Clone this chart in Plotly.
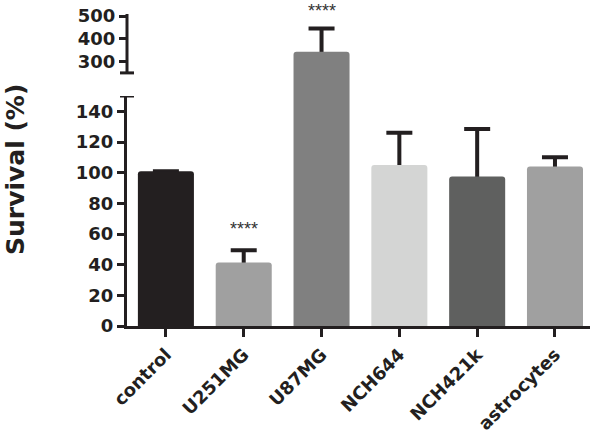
import plotly.graph_objects as go

categories = ["control", "U251MG", "U87MG", "NCH644", "NCH421k", "astrocytes"]
survival = [101, 41.4, 344, 105, 97.5, 104]
sem = [None, 8, 101, 21, 31, 6]
bar_colors = ["#231f20", "#a0a0a0", "#808080", "#d4d5d4", "#5f605f", "#a0a0a0"]
lower_ticks = [0, 20, 40, 60, 80, 100, 120, 140]
upper_ticks = [300, 400, 500]
sig_labels = ["", "****", "****", "", "", ""]
sig_y = [None, 63, 522, None, None, None]

W, H = 600, 438
ml, mr, mt, mb = 127, 10, 10, 112
plot_h = H - mt - mb
zero_pix = H - mb          # 326
break_pix = 96             # pixel where lower axis ends
top_pix = 14
LOW_MAX = 150
lower_top = (zero_pix - break_pix) / plot_h

# upper axis: 300 at pixel 61.7, 500 at 16
up_scale = (61.7 - 16) / 200.0
up_start_pix = break_pix + 1   # 1px overlap to avoid seam
UP_MIN = 300 - (up_start_pix - 61.7) / up_scale
UP_MAX = 500 + (16 - top_pix) / up_scale
upper_bottom = (zero_pix - up_start_pix) / plot_h
upper_top = (zero_pix - top_pix) / plot_h
UP_AXIS_MIN = 251

FONT = "DejaVu Sans"
fig = go.Figure()
err = dict(type="data", symmetric=True, array=sem,
           color="#231f20", thickness=4, width=13)
for ax in ["y", "y2"]:
    # error bars (drawn first; lower half hidden behind the bars)
    fig.add_trace(go.Bar(
        x=categories, y=survival, yaxis=ax, width=0.72,
        marker=dict(color="rgba(0,0,0,0)", line=dict(width=0)),
        error_y=err, showlegend=False, hoverinfo="skip",
    ))
    fig.add_trace(go.Bar(
        x=categories, y=survival, yaxis=ax, width=0.72,
        marker=dict(color=bar_colors, line=dict(width=0), cornerradius=3),
        showlegend=False,
    ))

# significance stars
star_font = dict(family="Liberation Sans, Arial", size=18, color="#333333")
for cat, lab, v in zip(categories, sig_labels, sig_y):
    if not lab:
        continue
    if v <= LOW_MAX:
        fig.add_annotation(x=cat, y=v, yref="y", text=lab, showarrow=False,
                           font=star_font, yanchor="middle")
    else:
        fig.add_annotation(x=cat, y=(v - UP_MIN) / (UP_MAX - UP_MIN), yref="y2 domain",
                           text=lab, showarrow=False, font=star_font, yanchor="middle")

tickfont = dict(family=FONT, size=18, color="#231f20", weight="bold")
xtickfont = dict(family=FONT, size=18, color="#231f20", weight="bold")
fig.update_layout(
    width=W, height=H,
    margin=dict(l=ml, r=mr, t=mt, b=mb, autoexpand=False),
    plot_bgcolor="white", paper_bgcolor="white",
    barmode="overlay",
    xaxis=dict(range=[-0.5, 5.45], showline=True, linewidth=3, linecolor="#231f20",
               ticks="outside", ticklen=8, tickwidth=3, tickcolor="#231f20",
               tickangle=-45, tickfont=xtickfont, showgrid=False, zeroline=False,
               anchor="y", automargin=False),
    yaxis=dict(domain=[0, lower_top], range=[0, LOW_MAX], tickvals=lower_ticks,
               showline=True, linewidth=3, linecolor="#231f20",
               ticks="outside", ticklen=7, tickwidth=3, tickcolor="#231f20",
               tickfont=tickfont, showgrid=False, zeroline=False, automargin=False),
    yaxis2=dict(domain=[upper_bottom, upper_top], range=[UP_MIN, UP_MAX], tickvals=upper_ticks,
                showline=False, anchor="x",
                ticks="outside", ticklen=7, tickwidth=3, tickcolor="#231f20",
                tickfont=tickfont, showgrid=False, zeroline=False, automargin=False),
)

# broken axis line segments and caps
axis_line = dict(color="#231f20", width=3)
fig.add_shape(type="line", xref="paper", yref="y2", x0=0, x1=0, y0=UP_AXIS_MIN, y1=UP_MAX,
              line=axis_line)
cap = 7 / (W - ml - mr)
fig.add_shape(type="line", xref="paper", yref="y2", x0=-cap, x1=cap,
              y0=UP_AXIS_MIN, y1=UP_AXIS_MIN, line=axis_line)
fig.add_shape(type="line", xref="paper", yref="y", x0=-cap, x1=cap,
              y0=LOW_MAX, y1=LOW_MAX, line=axis_line)

fig.add_annotation(xref="paper", yref="paper", x=(15 - ml) / (W - ml - mr),
                   y=(zero_pix - 170) / plot_h, text="<b>Survival (%)</b>", textangle=-90,
                   showarrow=False, xanchor="center", yanchor="middle",
                   font=dict(family=FONT, size=25, color="#231f20"))

fig.write_html("out.html", config={"displayModeBar": False},
               post_script="document.body.style.margin='0';")
